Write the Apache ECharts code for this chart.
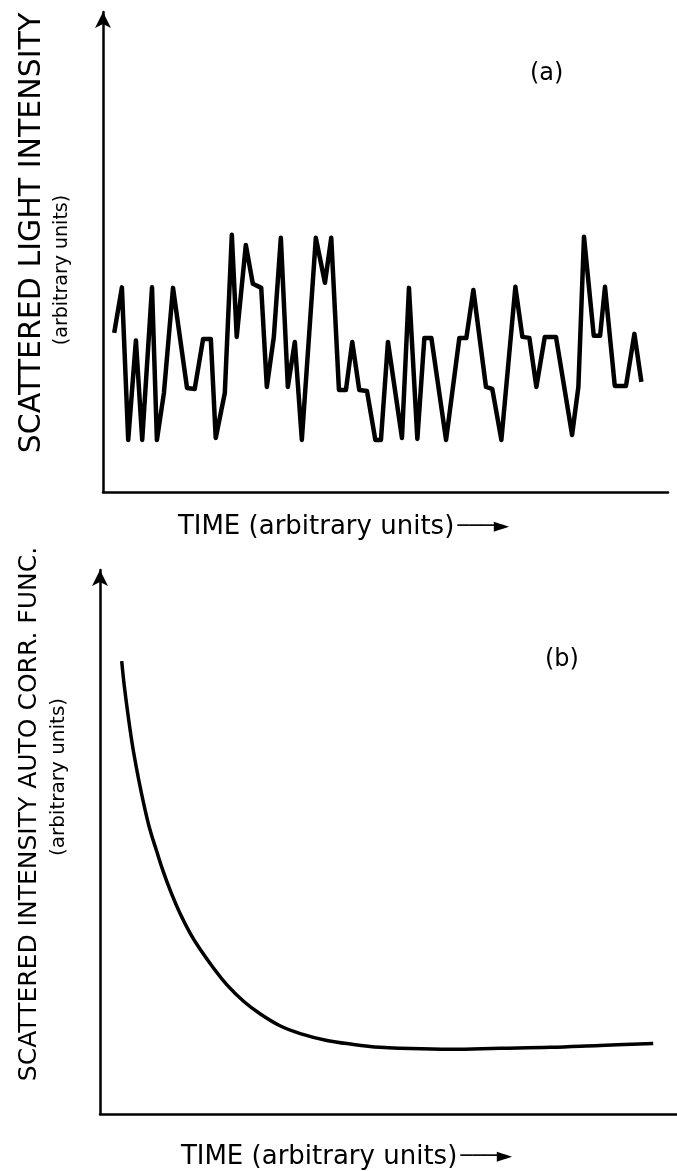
<!DOCTYPE html>
<html>
<head>
<meta charset="utf-8">
<script src="https://cdn.jsdelivr.net/npm/echarts@6/dist/echarts.min.js"></script>
<style>
  html, body { margin: 0; padding: 0; background: #fff; }
  #chart { width: 677px; height: 1171px; }
</style>
</head>
<body>
<div id="chart"></div>
<script>
// (a) fluctuating scattered light intensity: time, intensity (arbitrary units)
const intensityTime = [
  1.6, 2.7, 3.6, 4.7, 5.6, 7.0, 7.7, 8.7, 10.0, 12.0, 13.1, 14.3, 15.4, 16.1, 17.4,
  18.4, 19.1, 20.4, 21.4, 22.6, 23.4, 24.4, 25.4, 26.4, 27.4, 28.4, 30.4, 31.7, 32.6,
  33.7, 34.7, 35.6, 36.6, 37.7, 38.9, 39.7, 40.7, 42.7, 43.7, 44.9, 45.9, 46.9, 49.0,
  50.9, 51.9, 52.9, 54.7, 55.6, 56.9, 58.9, 59.9, 60.9, 61.9, 63.1, 64.7, 67.0, 67.9,
  68.7, 70.1, 71.0, 71.7, 73.1, 74.7, 75.9, 76.9
];
const intensityValue = [
  3.15, 4.05, 1.03, 3.0, 1.03, 4.05, 1.03, 1.96, 4.04, 2.06, 2.04, 3.03, 3.03, 1.07, 1.96,
  5.09, 3.07, 4.89, 4.12, 4.04, 2.08, 3.07, 5.03, 2.08, 2.97, 1.03, 5.03, 4.14, 5.03,
  2.02, 2.02, 2.97, 2.02, 2.0, 1.03, 1.03, 2.97, 1.07, 4.04, 1.05, 3.05, 3.05, 1.03,
  3.05, 3.05, 4.0, 2.08, 2.04, 1.03, 4.06, 3.07, 3.05, 2.08, 3.07, 3.07, 1.13, 2.08,
  5.05, 3.09, 3.09, 4.06, 2.1, 2.1, 3.13, 2.18
];

// (b) intensity autocorrelation function: delay time, correlation (arbitrary units)
const corrTime = [
  3.1, 3.4, 3.8, 4.3, 4.8, 5.5, 6.2, 7.1, 8.1, 9.0, 10.2, 11.4, 12.9, 14.3, 16.2,
  18.1, 20.5, 22.9, 25.7, 28.6, 32.4, 36.2, 40.0, 42.9, 50.0, 57.1, 64.3, 71.4, 79.0
];
const corrValue = [
  46.2, 44.1, 41.8, 39.2, 36.9, 34.2, 31.8, 29.1, 26.8, 24.8, 22.5, 20.5, 18.4, 16.8, 14.9,
  13.2, 11.5, 10.2, 9.0, 8.2, 7.5, 7.1, 6.8, 6.7, 6.6, 6.7, 6.8, 7.0, 7.2
];

const FONT = 'DejaVu Sans';
const xLabel = 'TIME (arbitrary units)';
const yLabelA = 'SCATTERED LIGHT INTENSITY';
const yLabelB = 'SCATTERED INTENSITY AUTO CORR. FUNC.';
const unitsLabel = '(arbitrary units)';

function pairs(xs, ys) { return xs.map((x, i) => [x, ys[i]]); }

const axisLineStyle = { color: '#000', width: 2.5 };

function xAxisFor(gridIndex, max, gap) {
  return {
    type: 'value', gridIndex, min: 0, max,
    axisLine: { show: true, onZero: false, lineStyle: axisLineStyle },
    axisTick: { show: false }, axisLabel: { show: false }, splitLine: { show: false },
    name: '{t|' + xLabel + '} {a|───►}',
    nameLocation: 'middle', nameGap: gap,
    nameTextStyle: {
      padding: [0, 84, 0, 0],
      rich: {
        t: { fontFamily: FONT, fontSize: 26, color: '#000' },
        a: { fontFamily: FONT, fontSize: 20, fontWeight: 'bold', color: '#000' }
      }
    }
  };
}

function yAxisFor(gridIndex, max, label, mainSize, subSize, mainPad, subPad) {
  return {
    type: 'value', gridIndex, min: 0, max,
    axisLine: { show: true, onZero: false, lineStyle: axisLineStyle,
                symbol: ['none', 'arrow'], symbolSize: [12, 16] },
    axisTick: { show: false }, axisLabel: { show: false }, splitLine: { show: false },
    name: '{m|' + label + '}\n{s|' + unitsLabel + '}',
    nameLocation: 'middle', nameRotate: 90, nameGap: 28,
    nameTextStyle: {
      rich: {
        m: { fontFamily: FONT, fontSize: mainSize, color: '#000', lineHeight: 34, padding: mainPad },
        s: { fontFamily: FONT, fontSize: subSize, color: '#000', lineHeight: 26, padding: subPad }
      }
    }
  };
}

const chart = echarts.init(document.getElementById('chart'), null, { renderer: 'canvas' });
chart.setOption({
  backgroundColor: '#fff',
  animation: false,
  grid: [
    { left: 103, right: 9, top: 12, height: 480 },
    { left: 100, right: 0, top: 570, height: 555 }
  ],
  xAxis: [xAxisFor(0, 80.7, 22), xAxisFor(1, 82.4, 30)],
  yAxis: [
    yAxisFor(0, 9.5, yLabelA, 30, 19, [0, 0, 0, 38], [0, 36, 0, 0]),
    yAxisFor(1, 55.5, yLabelB, 25, 20, [0, 0, 0, 56], [0, 0, 0, 130])
  ],
  graphic: [
    { type: 'text', left: 530, top: 62, style: { text: '(a)', font: '24px "DejaVu Sans"', fill: '#000' } },
    { type: 'text', left: 545, top: 648, style: { text: '(b)', font: '24px "DejaVu Sans"', fill: '#000' } }
  ],
  series: [
    {
      type: 'line', xAxisIndex: 0, yAxisIndex: 0,
      data: pairs(intensityTime, intensityValue),
      showSymbol: false,
      lineStyle: { color: '#000', width: 4.5, join: 'round' }
    },
    {
      type: 'line', xAxisIndex: 1, yAxisIndex: 1,
      data: pairs(corrTime, corrValue),
      smooth: 0.4, showSymbol: false,
      lineStyle: { color: '#000', width: 3.5, join: 'round' }
    }
  ]
});
</script>
</body>
</html>
